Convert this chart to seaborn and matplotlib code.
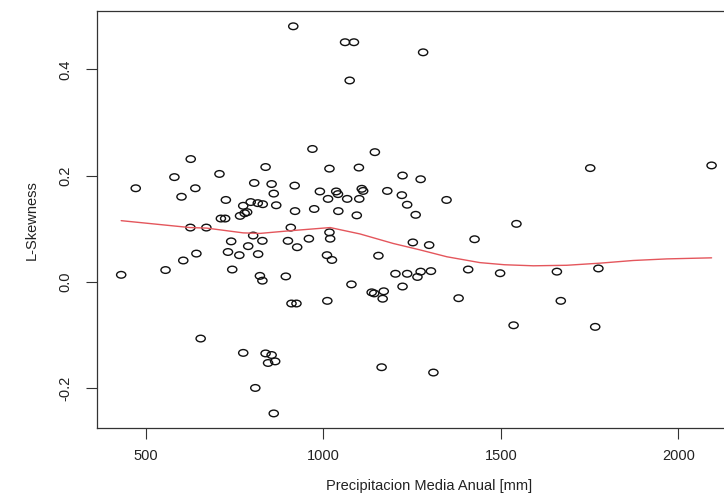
import numpy as np
import pandas as pd
import matplotlib
matplotlib.use("Agg")
import matplotlib.pyplot as plt
import seaborn as sns
from matplotlib.path import Path
from matplotlib.transforms import Affine2D

# ---- data ----
precip = [915, 1061, 1086, 1074, 969, 1145, 626, 580, 707, 837, 1017, 1100, 1223,
          471, 639, 805, 854, 919, 1108, 1112, 1180, 600, 860, 990, 1036, 1041,
          1221, 725, 1013, 1067, 1101, 1236, 795, 815, 829, 774, 867, 785, 778,
          765, 711, 723, 920, 974, 1042, 1094, 625, 670, 908, 1017, 802, 1019,
          959, 740, 828, 900, 788, 926,
          642, 605, 731, 763, 816, 1010, 1024, 1155, 430, 555, 743, 821, 828,
          894, 1079, 1203, 1236, 1223, 1136, 1143, 1170, 1167, 910, 924, 1011,
          654, 774, 837, 854, 844, 864, 1164, 808, 860,
          1281, 1752, 2094, 1274, 1347, 1260, 1544, 1426, 1252, 1298,
          1274, 1265, 1303, 1408, 1498, 1658, 1775, 1381, 1669, 1536, 1766, 1310]
lskew = [0.481, 0.451, 0.451, 0.379, 0.250, 0.244, 0.231, 0.197, 0.203, 0.216,
         0.213, 0.215, 0.200, 0.176, 0.176, 0.186, 0.184, 0.181, 0.175, 0.171,
         0.171, 0.160, 0.166, 0.170, 0.170, 0.165, 0.163, 0.154, 0.156, 0.156,
         0.156, 0.145, 0.150, 0.148, 0.146, 0.143, 0.144, 0.131, 0.129, 0.124,
         0.119, 0.119, 0.133, 0.137, 0.133, 0.125, 0.102, 0.102, 0.102, 0.093,
         0.087, 0.081, 0.081, 0.076, 0.077, 0.077, 0.067, 0.065,
         0.053, 0.040, 0.056, 0.050, 0.052, 0.050, 0.041, 0.049, 0.013, 0.022,
         0.023, 0.011, 0.002, 0.010, -0.005, 0.015, 0.015, -0.009, -0.020,
         -0.022, -0.018, -0.032, -0.041, -0.041, -0.036, -0.107, -0.134, -0.135,
         -0.138, -0.153, -0.150, -0.161, -0.200, -0.248,
         0.432, 0.214, 0.219, 0.193, 0.154, 0.126, 0.109, 0.080, 0.074, 0.069,
         0.019, 0.009, 0.020, 0.023, 0.016, 0.019, 0.025, -0.031, -0.036,
         -0.082, -0.085, -0.171]

smooth_x = [430, 624, 671, 774, 821, 906, 1019, 1103, 1197, 1272, 1348, 1441,
            1510, 1592, 1686, 1780, 1873, 1968, 2094]
smooth_y = [0.115, 0.102, 0.101, 0.092, 0.091, 0.096, 0.102, 0.090, 0.072,
            0.060, 0.047, 0.036, 0.032, 0.030, 0.031, 0.035, 0.040, 0.043, 0.045]

x_ticks = [500, 1000, 1500, 2000]
y_ticks = [-0.2, 0.0, 0.2, 0.4]
y_ticklabels = ["-0.2", "0.0", "0.2", "0.4"]
x_label = "Precipitacion Media Anual [mm]"
y_label = "L-Skewness"

df = pd.DataFrame({"precip": precip, "lskew": lskew})
sm = pd.DataFrame({"x": smooth_x, "y": smooth_y})

sns.set_style("white")
plt.rcParams["font.family"] = ["Liberation Sans", "DejaVu Sans"]

fig = plt.figure(figsize=(7.24, 4.96), dpi=100)
ax = fig.add_axes([0.1344, 0.1365, 0.8808, 0.8413])

# slightly flattened open circle marker
ell = Path.unit_circle().transformed(Affine2D().scale(1.0, 0.72))

sns.scatterplot(data=df, x="precip", y="lskew", ax=ax, marker=ell, s=44,
                color="black", linewidth=1.0, legend=False)
coll = ax.collections[0]
coll.set_facecolor("none")
coll.set_edgecolor("#111111")
coll.set_linewidth(1.0)

sns.lineplot(data=sm, x="x", y="y", ax=ax, color="#e4565c", linewidth=1.0,
             sort=False, estimator=None)

ax.set_xlim(362.7, 2160)
ax.set_ylim(-0.276, 0.5098)
ax.set_xticks(x_ticks)
ax.set_xticklabels([str(t) for t in x_ticks])
ax.set_yticks(y_ticks)
ax.set_yticklabels(y_ticklabels, rotation=90, va="center")

for sp in ax.spines.values():
    sp.set_visible(True)
    sp.set_color("#333333")
    sp.set_linewidth(0.9)

ax.tick_params(axis="both", direction="out", length=7.7, width=0.8,
               color="#333333", labelsize=10.5, labelcolor="#222222")
ax.tick_params(axis="x", pad=7.2, bottom=True)
ax.tick_params(axis="y", pad=10.5, left=True)

ax.set_xlabel(x_label, fontsize=10.5, color="#222222")
ax.set_ylabel(y_label, fontsize=10.5, color="#222222")
ax.xaxis.set_label_coords(0.521, -0.1215)
ax.yaxis.set_label_coords(-0.0914, 0.5)

fig.savefig("out.png", dpi=100)
